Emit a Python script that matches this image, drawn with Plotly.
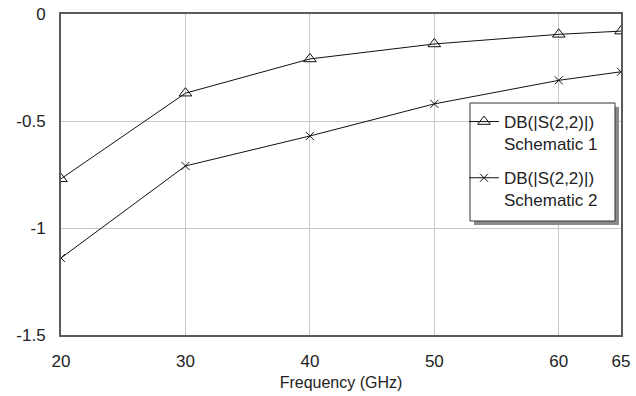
import plotly.graph_objects as go

# Frequency sweep points (GHz)
freq_ghz = [20, 30, 40, 50, 60, 65]

# Return loss |S22| in dB for the two schematics
s22_schematic1 = [-0.77, -0.37, -0.21, -0.14, -0.095, -0.08]
s22_schematic2 = [-1.14, -0.71, -0.57, -0.42, -0.31, -0.27]

x_ticks = [20, 30, 40, 50, 60, 65]
y_ticks = [0, -0.5, -1, -1.5]
y_tick_text = ["0", "-0.5", "-1", "-1.5"]

W, H = 636, 396
L, R, T, B = 61, 15, 14, 61
plot_w = W - L - R
plot_h = H - T - B


def px_to_paper(px, py):
    return (px - L) / plot_w, (H - B - py) / plot_h


FONT = "Liberation Sans, Arial, sans-serif"

fig = go.Figure()

fig.add_trace(go.Scatter(
    x=freq_ghz, y=s22_schematic1, mode="lines+markers",
    name="DB(|S(2,2)|)<br>Schematic 1", legendgroup="s1",
    line=dict(color="#111111", width=1),
    marker=dict(symbol="triangle-up-open", size=11, color="#111111",
                line=dict(width=1, color="#111111")),
))
fig.add_trace(go.Scatter(
    x=freq_ghz, y=s22_schematic2, mode="lines+markers",
    name="DB(|S(2,2)|)<br>Schematic 2", legendgroup="s2",
    line=dict(color="#111111", width=1),
    marker=dict(symbol="x-thin-open", size=8, color="#111111",
                line=dict(width=1, color="#111111")),
))

# legend frame with drop shadow
sx0, sy0 = px_to_paper(474, 107)
sx1, sy1 = px_to_paper(619, 225)
fig.add_shape(type="rect", xref="paper", yref="paper",
              x0=sx0, y0=sy1, x1=sx1, y1=sy0,
              fillcolor="#8a8a8a", line=dict(width=0), layer="above")
bx0, by0 = px_to_paper(470, 103)
bx1, by1 = px_to_paper(615, 221)
fig.add_shape(type="rect", xref="paper", yref="paper",
              x0=bx0, y0=by1, x1=bx1, y1=by0,
              fillcolor="white", line=dict(width=1, color="#333333"), layer="above")

lx, ly = px_to_paper(464, 104)

fig.update_layout(
    width=W, height=H,
    margin=dict(l=L, r=R, t=T, b=B, autoexpand=False),
    paper_bgcolor="white", plot_bgcolor="white",
    font=dict(family=FONT, size=17, color="#222222"),
    showlegend=True,
    legend=dict(
        x=lx, y=ly, xanchor="left", yanchor="top",
        bgcolor="rgba(0,0,0,0)", borderwidth=0,
        font=dict(family=FONT, size=17, color="#222222"),
        valign="top", tracegroupgap=9, itemwidth=30,
    ),
    xaxis=dict(
        range=[20, 65], tickvals=x_ticks, ticktext=[str(v) for v in x_ticks],
        showgrid=True, gridcolor="#c8c8c8", gridwidth=1,
        showline=True, linecolor="#5a5a5a", linewidth=2, mirror=True,
        ticks="", ticklabelstandoff=10, zeroline=False, automargin=False,
        title=dict(text="Frequency (GHz)", font=dict(size=16), standoff=6),
    ),
    yaxis=dict(
        range=[-1.5, 0], tickvals=y_ticks, ticktext=y_tick_text,
        showgrid=True, gridcolor="#c8c8c8", gridwidth=1,
        showline=True, linecolor="#5a5a5a", linewidth=2, mirror=True,
        ticks="", ticklabelstandoff=10, zeroline=False, automargin=False,
    ),
)

fig.write_html("out.html")
